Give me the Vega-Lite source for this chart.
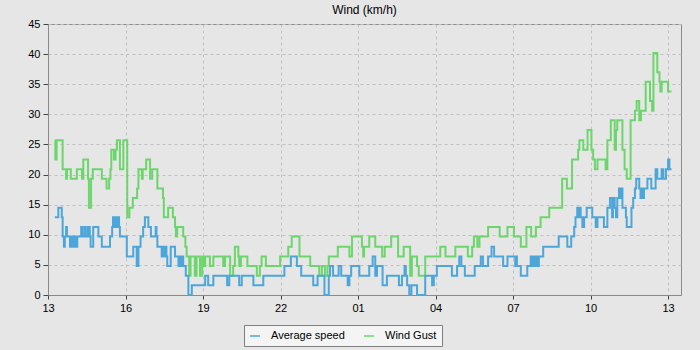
{
"$schema": "https://vega.github.io/schema/vega-lite/v6.json",
"width": 633, "height": 271,
"autosize": {"type": "none"},
"padding": {"left": 48, "top": 24, "right": 19, "bottom": 55},
"background": "#e6e6e6",
"title": {"text": "Wind (km/h)", "fontSize": 12, "fontWeight": "normal", "color": "#000000", "offset": 1},
"config": {"view": {"stroke": "#8a8a8a", "strokeWidth": 1, "fill": "#e6e6e6"}},
"data": {"values": [
{"t":"2024-01-01T13:16:00","s":"Wind Gust","v":25.7},
{"t":"2024-01-01T13:17:00","s":"Wind Gust","v":22.5},
{"t":"2024-01-01T13:20:00","s":"Wind Gust","v":25.7},
{"t":"2024-01-01T13:34:00","s":"Wind Gust","v":20.9},
{"t":"2024-01-01T13:42:00","s":"Wind Gust","v":19.3},
{"t":"2024-01-01T13:44:00","s":"Wind Gust","v":20.9},
{"t":"2024-01-01T13:53:00","s":"Wind Gust","v":19.3},
{"t":"2024-01-01T14:07:00","s":"Wind Gust","v":20.9},
{"t":"2024-01-01T14:19:00","s":"Wind Gust","v":19.3},
{"t":"2024-01-01T14:22:00","s":"Wind Gust","v":22.5},
{"t":"2024-01-01T14:33:00","s":"Wind Gust","v":19.3},
{"t":"2024-01-01T14:35:00","s":"Wind Gust","v":14.5},
{"t":"2024-01-01T14:40:00","s":"Wind Gust","v":19.3},
{"t":"2024-01-01T14:44:00","s":"Wind Gust","v":20.9},
{"t":"2024-01-01T15:05:00","s":"Wind Gust","v":19.3},
{"t":"2024-01-01T15:16:00","s":"Wind Gust","v":17.7},
{"t":"2024-01-01T15:22:00","s":"Wind Gust","v":19.3},
{"t":"2024-01-01T15:25:00","s":"Wind Gust","v":20.9},
{"t":"2024-01-01T15:27:00","s":"Wind Gust","v":24.1},
{"t":"2024-01-01T15:33:00","s":"Wind Gust","v":22.5},
{"t":"2024-01-01T15:37:00","s":"Wind Gust","v":24.1},
{"t":"2024-01-01T15:40:00","s":"Wind Gust","v":25.7},
{"t":"2024-01-01T15:47:00","s":"Wind Gust","v":20.9},
{"t":"2024-01-01T15:55:00","s":"Wind Gust","v":25.7},
{"t":"2024-01-01T16:04:00","s":"Wind Gust","v":12.9},
{"t":"2024-01-01T16:09:00","s":"Wind Gust","v":14.5},
{"t":"2024-01-01T16:17:00","s":"Wind Gust","v":16.1},
{"t":"2024-01-01T16:27:00","s":"Wind Gust","v":17.7},
{"t":"2024-01-01T16:30:00","s":"Wind Gust","v":20.9},
{"t":"2024-01-01T16:38:00","s":"Wind Gust","v":19.3},
{"t":"2024-01-01T16:40:00","s":"Wind Gust","v":20.9},
{"t":"2024-01-01T16:48:00","s":"Wind Gust","v":22.5},
{"t":"2024-01-01T16:57:00","s":"Wind Gust","v":19.3},
{"t":"2024-01-01T17:02:00","s":"Wind Gust","v":20.9},
{"t":"2024-01-01T17:14:00","s":"Wind Gust","v":17.7},
{"t":"2024-01-01T17:27:00","s":"Wind Gust","v":16.1},
{"t":"2024-01-01T17:29:00","s":"Wind Gust","v":12.9},
{"t":"2024-01-01T17:39:00","s":"Wind Gust","v":14.5},
{"t":"2024-01-01T17:50:00","s":"Wind Gust","v":12.9},
{"t":"2024-01-01T17:55:00","s":"Wind Gust","v":11.3},
{"t":"2024-01-01T17:57:00","s":"Wind Gust","v":9.7},
{"t":"2024-01-01T18:00:00","s":"Wind Gust","v":11.3},
{"t":"2024-01-01T18:14:00","s":"Wind Gust","v":9.7},
{"t":"2024-01-01T18:19:00","s":"Wind Gust","v":8.0},
{"t":"2024-01-01T18:22:00","s":"Wind Gust","v":6.4},
{"t":"2024-01-01T18:28:00","s":"Wind Gust","v":3.2},
{"t":"2024-01-01T18:31:00","s":"Wind Gust","v":6.4},
{"t":"2024-01-01T18:41:00","s":"Wind Gust","v":3.2},
{"t":"2024-01-01T18:45:00","s":"Wind Gust","v":6.4},
{"t":"2024-01-01T18:53:00","s":"Wind Gust","v":3.2},
{"t":"2024-01-01T18:58:00","s":"Wind Gust","v":6.4},
{"t":"2024-01-01T19:01:00","s":"Wind Gust","v":4.8},
{"t":"2024-01-01T19:05:00","s":"Wind Gust","v":6.4},
{"t":"2024-01-01T19:16:00","s":"Wind Gust","v":4.8},
{"t":"2024-01-01T19:24:00","s":"Wind Gust","v":6.4},
{"t":"2024-01-01T19:47:00","s":"Wind Gust","v":4.8},
{"t":"2024-01-01T19:51:00","s":"Wind Gust","v":6.4},
{"t":"2024-01-01T20:03:00","s":"Wind Gust","v":3.2},
{"t":"2024-01-01T20:10:00","s":"Wind Gust","v":4.8},
{"t":"2024-01-01T20:14:00","s":"Wind Gust","v":8.0},
{"t":"2024-01-01T20:22:00","s":"Wind Gust","v":6.4},
{"t":"2024-01-01T20:24:00","s":"Wind Gust","v":4.8},
{"t":"2024-01-01T20:28:00","s":"Wind Gust","v":6.4},
{"t":"2024-01-01T20:43:00","s":"Wind Gust","v":4.8},
{"t":"2024-01-01T21:05:00","s":"Wind Gust","v":3.2},
{"t":"2024-01-01T21:12:00","s":"Wind Gust","v":4.8},
{"t":"2024-01-01T21:16:00","s":"Wind Gust","v":6.4},
{"t":"2024-01-01T21:26:00","s":"Wind Gust","v":4.8},
{"t":"2024-01-01T21:59:00","s":"Wind Gust","v":6.4},
{"t":"2024-01-01T22:18:00","s":"Wind Gust","v":8.0},
{"t":"2024-01-01T22:26:00","s":"Wind Gust","v":9.7},
{"t":"2024-01-01T22:44:00","s":"Wind Gust","v":6.4},
{"t":"2024-01-01T23:09:00","s":"Wind Gust","v":4.8},
{"t":"2024-01-01T23:30:00","s":"Wind Gust","v":3.2},
{"t":"2024-01-01T23:36:00","s":"Wind Gust","v":4.8},
{"t":"2024-01-01T23:43:00","s":"Wind Gust","v":3.2},
{"t":"2024-01-01T23:49:00","s":"Wind Gust","v":4.8},
{"t":"2024-01-01T23:52:00","s":"Wind Gust","v":6.4},
{"t":"2024-01-02T00:13:00","s":"Wind Gust","v":8.0},
{"t":"2024-01-02T00:40:00","s":"Wind Gust","v":6.4},
{"t":"2024-01-02T00:46:00","s":"Wind Gust","v":9.7},
{"t":"2024-01-02T01:09:00","s":"Wind Gust","v":8.0},
{"t":"2024-01-02T01:12:00","s":"Wind Gust","v":6.4},
{"t":"2024-01-02T01:14:00","s":"Wind Gust","v":8.0},
{"t":"2024-01-02T01:26:00","s":"Wind Gust","v":9.7},
{"t":"2024-01-02T01:40:00","s":"Wind Gust","v":8.0},
{"t":"2024-01-02T01:56:00","s":"Wind Gust","v":6.4},
{"t":"2024-01-02T02:02:00","s":"Wind Gust","v":8.0},
{"t":"2024-01-02T02:17:00","s":"Wind Gust","v":9.7},
{"t":"2024-01-02T02:33:00","s":"Wind Gust","v":6.4},
{"t":"2024-01-02T02:46:00","s":"Wind Gust","v":8.0},
{"t":"2024-01-02T03:01:00","s":"Wind Gust","v":3.2},
{"t":"2024-01-02T03:05:00","s":"Wind Gust","v":6.4},
{"t":"2024-01-02T03:17:00","s":"Wind Gust","v":4.8},
{"t":"2024-01-02T03:21:00","s":"Wind Gust","v":3.2},
{"t":"2024-01-02T03:36:00","s":"Wind Gust","v":6.4},
{"t":"2024-01-02T04:11:00","s":"Wind Gust","v":8.0},
{"t":"2024-01-02T04:23:00","s":"Wind Gust","v":6.4},
{"t":"2024-01-02T04:46:00","s":"Wind Gust","v":8.0},
{"t":"2024-01-02T05:15:00","s":"Wind Gust","v":6.4},
{"t":"2024-01-02T05:25:00","s":"Wind Gust","v":8.0},
{"t":"2024-01-02T05:29:00","s":"Wind Gust","v":9.7},
{"t":"2024-01-02T05:37:00","s":"Wind Gust","v":8.0},
{"t":"2024-01-02T05:42:00","s":"Wind Gust","v":9.7},
{"t":"2024-01-02T06:02:00","s":"Wind Gust","v":11.3},
{"t":"2024-01-02T06:29:00","s":"Wind Gust","v":9.7},
{"t":"2024-01-02T06:47:00","s":"Wind Gust","v":11.3},
{"t":"2024-01-02T07:02:00","s":"Wind Gust","v":9.7},
{"t":"2024-01-02T07:18:00","s":"Wind Gust","v":8.0},
{"t":"2024-01-02T07:31:00","s":"Wind Gust","v":11.3},
{"t":"2024-01-02T07:42:00","s":"Wind Gust","v":9.7},
{"t":"2024-01-02T07:53:00","s":"Wind Gust","v":11.3},
{"t":"2024-01-02T08:04:00","s":"Wind Gust","v":12.9},
{"t":"2024-01-02T08:24:00","s":"Wind Gust","v":14.5},
{"t":"2024-01-02T08:54:00","s":"Wind Gust","v":19.3},
{"t":"2024-01-02T09:05:00","s":"Wind Gust","v":17.7},
{"t":"2024-01-02T09:17:00","s":"Wind Gust","v":22.5},
{"t":"2024-01-02T09:31:00","s":"Wind Gust","v":24.1},
{"t":"2024-01-02T09:34:00","s":"Wind Gust","v":25.7},
{"t":"2024-01-02T09:43:00","s":"Wind Gust","v":24.1},
{"t":"2024-01-02T09:53:00","s":"Wind Gust","v":27.4},
{"t":"2024-01-02T10:02:00","s":"Wind Gust","v":24.1},
{"t":"2024-01-02T10:06:00","s":"Wind Gust","v":22.5},
{"t":"2024-01-02T10:10:00","s":"Wind Gust","v":20.9},
{"t":"2024-01-02T10:16:00","s":"Wind Gust","v":22.5},
{"t":"2024-01-02T10:35:00","s":"Wind Gust","v":20.9},
{"t":"2024-01-02T10:39:00","s":"Wind Gust","v":25.7},
{"t":"2024-01-02T10:47:00","s":"Wind Gust","v":29.0},
{"t":"2024-01-02T10:56:00","s":"Wind Gust","v":24.1},
{"t":"2024-01-02T10:59:00","s":"Wind Gust","v":27.4},
{"t":"2024-01-02T11:02:00","s":"Wind Gust","v":29.0},
{"t":"2024-01-02T11:14:00","s":"Wind Gust","v":24.1},
{"t":"2024-01-02T11:19:00","s":"Wind Gust","v":20.9},
{"t":"2024-01-02T11:24:00","s":"Wind Gust","v":19.3},
{"t":"2024-01-02T11:33:00","s":"Wind Gust","v":29.0},
{"t":"2024-01-02T11:43:00","s":"Wind Gust","v":30.6},
{"t":"2024-01-02T11:47:00","s":"Wind Gust","v":32.2},
{"t":"2024-01-02T11:53:00","s":"Wind Gust","v":29.0},
{"t":"2024-01-02T11:57:00","s":"Wind Gust","v":30.6},
{"t":"2024-01-02T12:08:00","s":"Wind Gust","v":35.4},
{"t":"2024-01-02T12:18:00","s":"Wind Gust","v":32.2},
{"t":"2024-01-02T12:23:00","s":"Wind Gust","v":30.6},
{"t":"2024-01-02T12:26:00","s":"Wind Gust","v":40.2},
{"t":"2024-01-02T12:35:00","s":"Wind Gust","v":37.0},
{"t":"2024-01-02T12:40:00","s":"Wind Gust","v":35.4},
{"t":"2024-01-02T12:42:00","s":"Wind Gust","v":33.8},
{"t":"2024-01-02T12:45:00","s":"Wind Gust","v":35.4},
{"t":"2024-01-02T13:00:00","s":"Wind Gust","v":33.8},
{"t":"2024-01-02T13:08:00","s":"Wind Gust","v":33.8},
{"t":"2024-01-01T13:16:00","s":"Average speed","v":12.9},
{"t":"2024-01-01T13:24:00","s":"Average speed","v":14.5},
{"t":"2024-01-01T13:32:00","s":"Average speed","v":12.9},
{"t":"2024-01-01T13:34:00","s":"Average speed","v":9.7},
{"t":"2024-01-01T13:37:00","s":"Average speed","v":8.0},
{"t":"2024-01-01T13:39:00","s":"Average speed","v":9.7},
{"t":"2024-01-01T13:42:00","s":"Average speed","v":11.3},
{"t":"2024-01-01T13:44:00","s":"Average speed","v":9.7},
{"t":"2024-01-01T13:51:00","s":"Average speed","v":8.0},
{"t":"2024-01-01T13:53:00","s":"Average speed","v":9.7},
{"t":"2024-01-01T13:56:00","s":"Average speed","v":8.0},
{"t":"2024-01-01T13:59:00","s":"Average speed","v":9.7},
{"t":"2024-01-01T14:01:00","s":"Average speed","v":8.0},
{"t":"2024-01-01T14:04:00","s":"Average speed","v":9.7},
{"t":"2024-01-01T14:06:00","s":"Average speed","v":8.0},
{"t":"2024-01-01T14:08:00","s":"Average speed","v":9.7},
{"t":"2024-01-01T14:17:00","s":"Average speed","v":11.3},
{"t":"2024-01-01T14:19:00","s":"Average speed","v":9.7},
{"t":"2024-01-01T14:24:00","s":"Average speed","v":11.3},
{"t":"2024-01-01T14:26:00","s":"Average speed","v":9.7},
{"t":"2024-01-01T14:31:00","s":"Average speed","v":11.3},
{"t":"2024-01-01T14:33:00","s":"Average speed","v":9.7},
{"t":"2024-01-01T14:35:00","s":"Average speed","v":11.3},
{"t":"2024-01-01T14:37:00","s":"Average speed","v":9.7},
{"t":"2024-01-01T14:39:00","s":"Average speed","v":8.0},
{"t":"2024-01-01T14:45:00","s":"Average speed","v":11.3},
{"t":"2024-01-01T14:57:00","s":"Average speed","v":9.7},
{"t":"2024-01-01T15:05:00","s":"Average speed","v":8.0},
{"t":"2024-01-01T15:24:00","s":"Average speed","v":9.7},
{"t":"2024-01-01T15:29:00","s":"Average speed","v":11.3},
{"t":"2024-01-01T15:31:00","s":"Average speed","v":12.9},
{"t":"2024-01-01T15:33:00","s":"Average speed","v":11.3},
{"t":"2024-01-01T15:37:00","s":"Average speed","v":12.9},
{"t":"2024-01-01T15:39:00","s":"Average speed","v":11.3},
{"t":"2024-01-01T15:43:00","s":"Average speed","v":12.9},
{"t":"2024-01-01T15:45:00","s":"Average speed","v":11.3},
{"t":"2024-01-01T15:47:00","s":"Average speed","v":9.7},
{"t":"2024-01-01T16:03:00","s":"Average speed","v":6.4},
{"t":"2024-01-01T16:18:00","s":"Average speed","v":8.0},
{"t":"2024-01-01T16:26:00","s":"Average speed","v":4.8},
{"t":"2024-01-01T16:30:00","s":"Average speed","v":8.0},
{"t":"2024-01-01T16:35:00","s":"Average speed","v":9.7},
{"t":"2024-01-01T16:41:00","s":"Average speed","v":11.3},
{"t":"2024-01-01T16:45:00","s":"Average speed","v":12.9},
{"t":"2024-01-01T16:53:00","s":"Average speed","v":11.3},
{"t":"2024-01-01T16:59:00","s":"Average speed","v":9.7},
{"t":"2024-01-01T17:10:00","s":"Average speed","v":11.3},
{"t":"2024-01-01T17:12:00","s":"Average speed","v":9.7},
{"t":"2024-01-01T17:14:00","s":"Average speed","v":8.0},
{"t":"2024-01-01T17:24:00","s":"Average speed","v":6.4},
{"t":"2024-01-01T17:26:00","s":"Average speed","v":8.0},
{"t":"2024-01-01T17:29:00","s":"Average speed","v":6.4},
{"t":"2024-01-01T17:32:00","s":"Average speed","v":8.0},
{"t":"2024-01-01T17:35:00","s":"Average speed","v":6.4},
{"t":"2024-01-01T17:37:00","s":"Average speed","v":4.8},
{"t":"2024-01-01T17:45:00","s":"Average speed","v":8.0},
{"t":"2024-01-01T17:55:00","s":"Average speed","v":6.4},
{"t":"2024-01-01T18:03:00","s":"Average speed","v":4.8},
{"t":"2024-01-01T18:05:00","s":"Average speed","v":6.4},
{"t":"2024-01-01T18:09:00","s":"Average speed","v":4.8},
{"t":"2024-01-01T18:11:00","s":"Average speed","v":6.4},
{"t":"2024-01-01T18:14:00","s":"Average speed","v":4.8},
{"t":"2024-01-01T18:20:00","s":"Average speed","v":3.2},
{"t":"2024-01-01T18:26:00","s":"Average speed","v":0},
{"t":"2024-01-01T18:34:00","s":"Average speed","v":1.6},
{"t":"2024-01-01T19:05:00","s":"Average speed","v":3.2},
{"t":"2024-01-01T19:12:00","s":"Average speed","v":1.6},
{"t":"2024-01-01T19:24:00","s":"Average speed","v":3.2},
{"t":"2024-01-01T19:56:00","s":"Average speed","v":1.6},
{"t":"2024-01-01T20:01:00","s":"Average speed","v":3.2},
{"t":"2024-01-01T20:24:00","s":"Average speed","v":1.6},
{"t":"2024-01-01T20:30:00","s":"Average speed","v":3.2},
{"t":"2024-01-01T20:57:00","s":"Average speed","v":1.6},
{"t":"2024-01-01T21:20:00","s":"Average speed","v":3.2},
{"t":"2024-01-01T22:09:00","s":"Average speed","v":4.8},
{"t":"2024-01-01T22:24:00","s":"Average speed","v":6.4},
{"t":"2024-01-01T22:38:00","s":"Average speed","v":4.8},
{"t":"2024-01-01T22:48:00","s":"Average speed","v":3.2},
{"t":"2024-01-01T23:16:00","s":"Average speed","v":1.6},
{"t":"2024-01-01T23:26:00","s":"Average speed","v":3.2},
{"t":"2024-01-01T23:42:00","s":"Average speed","v":0},
{"t":"2024-01-01T23:52:00","s":"Average speed","v":3.2},
{"t":"2024-01-01T23:55:00","s":"Average speed","v":4.8},
{"t":"2024-01-02T00:02:00","s":"Average speed","v":3.2},
{"t":"2024-01-02T00:15:00","s":"Average speed","v":4.8},
{"t":"2024-01-02T00:21:00","s":"Average speed","v":3.2},
{"t":"2024-01-02T00:36:00","s":"Average speed","v":1.6},
{"t":"2024-01-02T00:40:00","s":"Average speed","v":3.2},
{"t":"2024-01-02T00:44:00","s":"Average speed","v":4.8},
{"t":"2024-01-02T01:03:00","s":"Average speed","v":3.2},
{"t":"2024-01-02T01:26:00","s":"Average speed","v":4.8},
{"t":"2024-01-02T01:34:00","s":"Average speed","v":6.4},
{"t":"2024-01-02T01:40:00","s":"Average speed","v":3.2},
{"t":"2024-01-02T01:44:00","s":"Average speed","v":4.8},
{"t":"2024-01-02T01:57:00","s":"Average speed","v":1.6},
{"t":"2024-01-02T02:07:00","s":"Average speed","v":3.2},
{"t":"2024-01-02T02:35:00","s":"Average speed","v":1.6},
{"t":"2024-01-02T02:42:00","s":"Average speed","v":3.2},
{"t":"2024-01-02T02:48:00","s":"Average speed","v":4.8},
{"t":"2024-01-02T02:51:00","s":"Average speed","v":3.2},
{"t":"2024-01-02T02:54:00","s":"Average speed","v":1.6},
{"t":"2024-01-02T02:59:00","s":"Average speed","v":0},
{"t":"2024-01-02T03:04:00","s":"Average speed","v":1.6},
{"t":"2024-01-02T03:17:00","s":"Average speed","v":0},
{"t":"2024-01-02T03:36:00","s":"Average speed","v":3.2},
{"t":"2024-01-02T03:52:00","s":"Average speed","v":1.6},
{"t":"2024-01-02T03:56:00","s":"Average speed","v":3.2},
{"t":"2024-01-02T04:03:00","s":"Average speed","v":4.8},
{"t":"2024-01-02T04:38:00","s":"Average speed","v":3.2},
{"t":"2024-01-02T04:50:00","s":"Average speed","v":4.8},
{"t":"2024-01-02T04:55:00","s":"Average speed","v":6.4},
{"t":"2024-01-02T05:00:00","s":"Average speed","v":4.8},
{"t":"2024-01-02T05:08:00","s":"Average speed","v":3.2},
{"t":"2024-01-02T05:31:00","s":"Average speed","v":4.8},
{"t":"2024-01-02T05:45:00","s":"Average speed","v":6.4},
{"t":"2024-01-02T05:50:00","s":"Average speed","v":4.8},
{"t":"2024-01-02T06:02:00","s":"Average speed","v":6.4},
{"t":"2024-01-02T06:10:00","s":"Average speed","v":8.0},
{"t":"2024-01-02T06:16:00","s":"Average speed","v":6.4},
{"t":"2024-01-02T06:37:00","s":"Average speed","v":4.8},
{"t":"2024-01-02T06:47:00","s":"Average speed","v":6.4},
{"t":"2024-01-02T07:05:00","s":"Average speed","v":4.8},
{"t":"2024-01-02T07:07:00","s":"Average speed","v":6.4},
{"t":"2024-01-02T07:09:00","s":"Average speed","v":4.8},
{"t":"2024-01-02T07:18:00","s":"Average speed","v":3.2},
{"t":"2024-01-02T07:33:00","s":"Average speed","v":4.8},
{"t":"2024-01-02T07:41:00","s":"Average speed","v":6.4},
{"t":"2024-01-02T07:44:00","s":"Average speed","v":4.8},
{"t":"2024-01-02T07:47:00","s":"Average speed","v":6.4},
{"t":"2024-01-02T07:51:00","s":"Average speed","v":4.8},
{"t":"2024-01-02T07:54:00","s":"Average speed","v":6.4},
{"t":"2024-01-02T07:57:00","s":"Average speed","v":4.8},
{"t":"2024-01-02T08:00:00","s":"Average speed","v":6.4},
{"t":"2024-01-02T08:10:00","s":"Average speed","v":8.0},
{"t":"2024-01-02T08:46:00","s":"Average speed","v":9.7},
{"t":"2024-01-02T09:06:00","s":"Average speed","v":8.0},
{"t":"2024-01-02T09:15:00","s":"Average speed","v":9.7},
{"t":"2024-01-02T09:22:00","s":"Average speed","v":11.3},
{"t":"2024-01-02T09:25:00","s":"Average speed","v":12.9},
{"t":"2024-01-02T09:29:00","s":"Average speed","v":14.5},
{"t":"2024-01-02T09:32:00","s":"Average speed","v":12.9},
{"t":"2024-01-02T09:34:00","s":"Average speed","v":14.5},
{"t":"2024-01-02T09:37:00","s":"Average speed","v":12.9},
{"t":"2024-01-02T09:41:00","s":"Average speed","v":11.3},
{"t":"2024-01-02T09:45:00","s":"Average speed","v":12.9},
{"t":"2024-01-02T09:51:00","s":"Average speed","v":14.5},
{"t":"2024-01-02T10:04:00","s":"Average speed","v":12.9},
{"t":"2024-01-02T10:12:00","s":"Average speed","v":11.3},
{"t":"2024-01-02T10:16:00","s":"Average speed","v":12.9},
{"t":"2024-01-02T10:31:00","s":"Average speed","v":11.3},
{"t":"2024-01-02T10:39:00","s":"Average speed","v":14.5},
{"t":"2024-01-02T10:45:00","s":"Average speed","v":16.1},
{"t":"2024-01-02T10:50:00","s":"Average speed","v":12.9},
{"t":"2024-01-02T10:52:00","s":"Average speed","v":16.1},
{"t":"2024-01-02T10:56:00","s":"Average speed","v":14.5},
{"t":"2024-01-02T10:59:00","s":"Average speed","v":12.9},
{"t":"2024-01-02T11:02:00","s":"Average speed","v":16.1},
{"t":"2024-01-02T11:06:00","s":"Average speed","v":17.7},
{"t":"2024-01-02T11:10:00","s":"Average speed","v":16.1},
{"t":"2024-01-02T11:12:00","s":"Average speed","v":17.7},
{"t":"2024-01-02T11:14:00","s":"Average speed","v":14.5},
{"t":"2024-01-02T11:22:00","s":"Average speed","v":12.9},
{"t":"2024-01-02T11:24:00","s":"Average speed","v":11.3},
{"t":"2024-01-02T11:35:00","s":"Average speed","v":14.5},
{"t":"2024-01-02T11:39:00","s":"Average speed","v":16.1},
{"t":"2024-01-02T11:43:00","s":"Average speed","v":17.7},
{"t":"2024-01-02T11:46:00","s":"Average speed","v":19.3},
{"t":"2024-01-02T11:53:00","s":"Average speed","v":17.7},
{"t":"2024-01-02T11:56:00","s":"Average speed","v":16.1},
{"t":"2024-01-02T11:58:00","s":"Average speed","v":17.7},
{"t":"2024-01-02T12:01:00","s":"Average speed","v":16.1},
{"t":"2024-01-02T12:04:00","s":"Average speed","v":17.7},
{"t":"2024-01-02T12:12:00","s":"Average speed","v":19.3},
{"t":"2024-01-02T12:21:00","s":"Average speed","v":17.7},
{"t":"2024-01-02T12:31:00","s":"Average speed","v":20.9},
{"t":"2024-01-02T12:35:00","s":"Average speed","v":19.3},
{"t":"2024-01-02T12:45:00","s":"Average speed","v":20.9},
{"t":"2024-01-02T12:49:00","s":"Average speed","v":19.3},
{"t":"2024-01-02T12:55:00","s":"Average speed","v":20.9},
{"t":"2024-01-02T13:00:00","s":"Average speed","v":22.5},
{"t":"2024-01-02T13:03:00","s":"Average speed","v":20.9},
{"t":"2024-01-02T13:08:00","s":"Average speed","v":20.9}
]},
"mark": {"type": "line", "interpolate": "step-after", "strokeWidth": 2},
"encoding": {
  "x": {"field": "t", "type": "temporal",
    "scale": {"domain": [{"year": 2024, "month": 1, "date": 1, "hours": 13, "minutes": 0}, {"year": 2024, "month": 1, "date": 2, "hours": 13, "minutes": 30}]},
    "axis": {"title": null,
      "values": [
        {"year": 2024, "month": 1, "date": 1, "hours": 13},
        {"year": 2024, "month": 1, "date": 1, "hours": 16},
        {"year": 2024, "month": 1, "date": 1, "hours": 19},
        {"year": 2024, "month": 1, "date": 1, "hours": 22},
        {"year": 2024, "month": 1, "date": 2, "hours": 1},
        {"year": 2024, "month": 1, "date": 2, "hours": 4},
        {"year": 2024, "month": 1, "date": 2, "hours": 7},
        {"year": 2024, "month": 1, "date": 2, "hours": 10},
        {"year": 2024, "month": 1, "date": 2, "hours": 13}],
      "format": "%H", "labelFlush": false, "labelFontSize": 11, "labelColor": "#000000", "labelPadding": 3,
      "tickSize": 4, "tickColor": "#444444", "domainColor": "#8a8a8a",
      "grid": true, "gridColor": "#c0c0c0", "gridDash": [3, 3]}},
  "y": {"field": "v", "type": "quantitative", "scale": {"domain": [0, 45], "nice": false},
    "axis": {"title": null, "values": [0,5,10,15,20,25,30,35,40,45],
      "labelFontSize": 11, "labelColor": "#000000", "labelPadding": 3,
      "tickSize": 5, "tickColor": "#444444", "domainColor": "#8a8a8a",
      "grid": true, "gridColor": "#c0c0c0", "gridDash": [3, 3]}},
  "color": {"field": "s", "type": "nominal",
    "scale": {"domain": ["Average speed", "Wind Gust"], "range": ["#4da6d9", "#6cd66c"]},
    "legend": {"title": null, "orient": "none", "legendX": 196, "legendY": 301, "direction": "horizontal",
      "fillColor": "#f4f4f4", "strokeColor": "#808080", "padding": 5,
      "symbolType": "stroke", "labelFontSize": 11, "labelOffset": 10, "columnPadding": 16}}
}
}
